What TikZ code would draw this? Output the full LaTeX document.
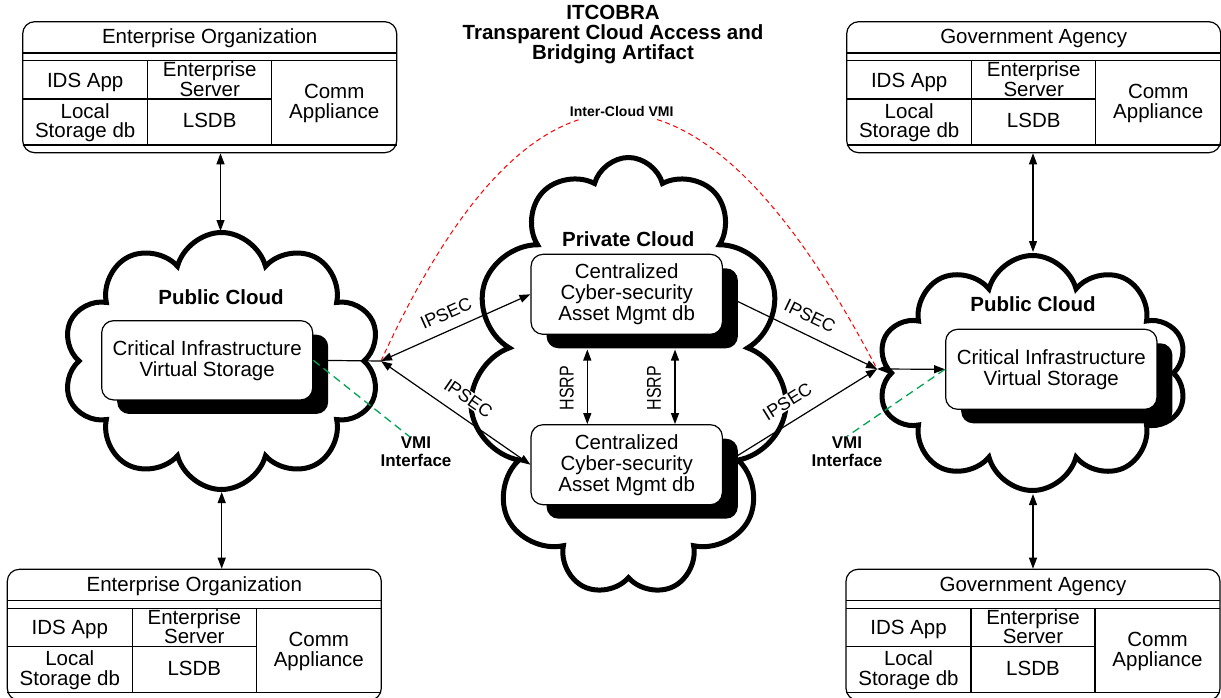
\documentclass[tikz,border=0pt]{standalone}
\usepackage{fontspec}
\setmainfont{Liberation Sans}
\usetikzlibrary{arrows.meta,shapes.symbols,shadows}
\definecolor{vmigreen}{RGB}{0,166,81}
\tikzset{
  thinline/.style={line width=1.2pt},
  orgframe/.style={draw, line width=1.2pt, rounded corners=12pt, minimum width=374pt, minimum height=131pt, inner sep=0pt},
  txt/.style={inner sep=0pt, align=center, font=\fontsize{20.5}{21}\selectfont},
  cell/.style={inner sep=0pt, align=center, font=\fontsize{20.5}{19.5}\selectfont},
  boldlbl/.style={inner sep=0pt, font=\bfseries\fontsize{20.5}{21}\selectfont},
  vmilbl/.style={inner sep=0pt, align=center, font=\bfseries\fontsize{17}{18}\selectfont},
  ipsec/.style={inner sep=1pt, fill=white, font=\fontsize{18}{18}\selectfont},
  hsrp/.style={inner sep=0pt, rotate=90, font=\fontsize{20}{20}\selectfont},
  cloudsty/.style={cloud, draw, line width=5pt, cloud ignores aspect, inner sep=0pt, cloud puff arc=150},
  shbox/.style={draw, fill=white, line width=1.2pt, rounded corners=12pt, inner sep=0pt, align=center,
    font=\fontsize{20.5}{21}\selectfont,
    drop shadow={shadow xshift=15.5pt, shadow yshift=-14pt, opacity=1, fill=black}},
  conn/.style={line width=1.2pt},
  >={Triangle[length=11pt,width=8pt]},
  reddash/.style={draw=red, line width=1pt, dash pattern=on 5pt off 3.5pt},
  greendash/.style={draw=vmigreen, line width=1.3pt, dash pattern=on 8pt off 5pt},
}
\newcommand\OrgTable[4]{%
\begin{scope}[shift={(#2,#3)}]
  \node[orgframe] (#1) at (187,65.5) {};
  \draw[thinline] (0,31.3) -- (374,31.3) (0,39) -- (374,39) (0,123.3) -- (374,123.3)
     (125,39) -- (125,123.3) (249,39) -- (249,123.3) (0,77.3) -- (249,77.3);
  \node[cell] (#1-title) at (187,16.8) {#4};
  \node[cell] (#1-ids) at (62.5,60.5) {IDS App};
  \node[cell] (#1-srv) at (187,57.5) {Enterprise\\Server};
  \node[cell] (#1-loc) at (62.5,101) {Local\\Storage db};
  \node[cell] (#1-lsdb) at (187,99.1) {LSDB};
  \node[cell] (#1-comm) at (311.5,82) {Comm\\Appliance};
\end{scope}}
\begin{document}
\begin{tikzpicture}[x=1pt,y=-1pt]
\useasboundingbox[fill=white] (0,0) rectangle (1221,698);
% clouds
\node[cloudsty, cloud puffs=10, shape border rotate=90, minimum width=318pt, minimum height=257pt] (cL) at (221.5,361) {};
\node[cloudsty, cloud puffs=11, shape border rotate=90, minimum width=318pt, minimum height=438pt] (cP) at (628.5,376.5) {};
\node[cloudsty, cloud puffs=10, shape border rotate=90, minimum width=310pt, minimum height=235pt] (cR) at (1032.5,373) {};
% title
\node[inner sep=0pt, align=center, font=\bfseries\fontsize{20.5}{20}\selectfont] (title) at (613,35)
  {ITCOBRA\\Transparent Cloud Access and\\Bridging Artifact};
% organisation tables
\OrgTable{orgTL}{22.7}{21.7}{Enterprise Organization}
\OrgTable{orgTR}{846.7}{21.7}{Government Agency}
\OrgTable{orgBL}{7.3}{569.3}{Enterprise Organization}
\OrgTable{orgBR}{846}{569.3}{Government Agency}
% cloud labels
\node[boldlbl] (plL) at (221,297) {Public Cloud};
\node[boldlbl] (plR) at (1033,304.5) {Public Cloud};
\node[boldlbl] (prv) at (628.3,239.5) {Private Cloud};
% shadowed boxes
\node[shbox, minimum width=211pt, minimum height=79.3pt] (ciL) at (207.2,360.3) {Critical Infrastructure\\Virtual Storage};
\node[shbox, minimum width=211.3pt, minimum height=80pt] (ciR) at (1051.3,369.3) {Critical Infrastructure\\Virtual Storage};
\node[shbox, minimum width=191.3pt, minimum height=80pt] (csT) at (626.7,294.3) {Centralized\\Cyber-security\\Asset Mgmt db};
\node[shbox, minimum width=191.3pt, minimum height=80pt] (csB) at (626.7,464.7) {Centralized\\Cyber-security\\Asset Mgmt db};
% junctions
\coordinate (jL) at (381,361);
\coordinate (jR) at (877,369);
% inter-cloud arc
\draw[reddash] (jL) .. controls (534,28) and (700,31) .. (jR);
\node[inner sep=2pt, fill=white, font=\bfseries\fontsize{14}{14}\selectfont] (icv) at (621.7,111.7) {Inter-Cloud VMI};
% IPSEC links
\draw[conn] (ciL.east) -- (jL);
\draw[conn,<->] (jL) -- (csT.west);
\draw[conn,<->] (jL) -- (csB.west);
\draw[conn,->] (csT.east) -- (jR);
\draw[conn,->] (csB.east) -- (jR);
\draw[conn,<->] (jR) -- (ciR.west);
\node[ipsec, rotate=24] (ip1) at (446,313.3) {IPSEC};
\node[ipsec, rotate=-34.7] (ip2) at (468.3,398.3) {IPSEC};
\node[ipsec, rotate=-25.8] (ip3) at (810,316) {IPSEC};
\node[ipsec, rotate=31.7] (ip4) at (787.3,401.7) {IPSEC};
% HSRP
\coordinate (h1) at (587.3,349.5);
\coordinate (h2) at (675,349.5);
\draw[conn,<->] (h1) -- (h1 |- csB.north);
\draw[conn,<->] (h2) -- (h2 |- csB.north);
\node[hsrp] (hs1) at (566.7,388.3) {\scalebox{0.8}[1]{HSRP}};
\node[hsrp] (hs2) at (654,388.3) {\scalebox{0.8}[1]{HSRP}};
% VMI interfaces
\node[vmilbl] (vmiL) at (416,451.7) {VMI\\Interface};
\node[vmilbl] (vmiR) at (847,451.5) {VMI\\Interface};
\coordinate (gL) at (410,437);
\draw[greendash] (ciL.east) -- (gL);
\draw[greendash] (ciR.west) -- (vmiR.north);
% organisation <-> cloud
\coordinate (cLt) at (220.5,231);
\coordinate (cLb) at (221.7,492);
\coordinate (cRt) at (1033,252);
\coordinate (cRb) at (1033,494);
\draw[conn,<->] (cLt |- orgTL.south) -- (cLt);
\draw[conn,<->] (cLb) -- (cLb |- orgBL.north);
\draw[conn,<->] (cRt |- orgTR.south) -- (cRt);
\draw[conn,<->] (cRb) -- (cRb |- orgBR.north);
\end{tikzpicture}
\end{document}
